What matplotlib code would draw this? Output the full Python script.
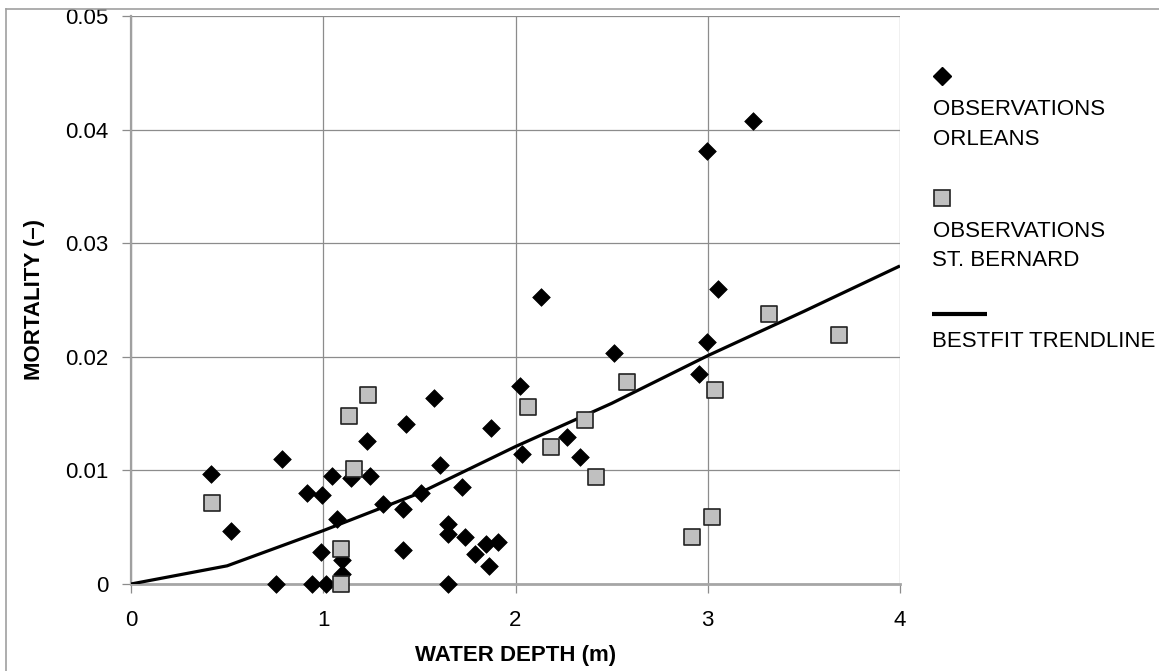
import matplotlib
matplotlib.use("Agg")
import matplotlib.pyplot as plt
from matplotlib.lines import Line2D

plt.rcParams['font.family'] = ['Liberation Sans', 'DejaVu Sans']

# ---- data ----
orleans_depth = [0.415, 0.52, 0.785, 0.755, 0.944, 1.013, 1.10, 1.10, 0.99, 1.074,
                 0.914, 0.992, 1.044, 1.143, 1.243, 1.23, 1.31, 1.416, 1.506, 1.607,
                 1.43, 1.576, 1.72, 1.874, 1.416, 1.65, 1.65, 1.735, 1.844, 1.908,
                 1.79, 1.86, 1.648, 2.026, 2.035, 2.27, 2.338, 2.51, 2.133, 3.053,
                 2.995, 2.955, 3.233, 2.995]
orleans_mort = [0.0097, 0.00465, 0.0110, 0.0, 0.0, 0.0, 0.0021, 0.0009, 0.00285, 0.0057,
                0.0080, 0.00785, 0.0095, 0.00935, 0.0095, 0.0126, 0.0070, 0.0066, 0.0080, 0.0105,
                0.0141, 0.0164, 0.0085, 0.0137, 0.0030, 0.0053, 0.0044, 0.0041, 0.0035, 0.0037,
                0.00265, 0.00156, 0.0, 0.0174, 0.0114, 0.0129, 0.0112, 0.0203, 0.0253, 0.0260,
                0.0213, 0.0185, 0.0408, 0.0381]

bernard_depth = [0.42, 1.09, 1.09, 1.16, 1.134, 1.233, 2.066, 2.185, 2.36, 2.42,
                 2.58, 3.32, 3.04, 3.685, 3.02, 2.92]
bernard_mort = [0.0071, 0.0, 0.0031, 0.0101, 0.0148, 0.0166, 0.0156, 0.0121, 0.0144, 0.0094,
                0.0178, 0.0238, 0.0171, 0.0219, 0.0059, 0.0041]

trend_depth = [0, 0.5, 1.0, 1.5, 2.0, 2.5, 3.0, 3.5, 4.0]
trend_mort = [0, 0.0016, 0.0047, 0.0080, 0.0121, 0.0159, 0.0201, 0.0240, 0.0280]

x_ticks = [0, 1, 2, 3, 4]
y_ticks = [0, 0.01, 0.02, 0.03, 0.04, 0.05]
y_ticklabels = ['0', '0.01', '0.02', '0.03', '0.04', '0.05']

legend_labels = [["OBSERVATIONS", "ORLEANS"], ["OBSERVATIONS", "ST. BERNARD"], ["BESTFIT TRENDLINE"]]
x_label = "WATER DEPTH (m)"
y_label = "MORTALITY (\u2013)"

# ---- figure ----
W, H = 1159, 671
fig = plt.figure(figsize=(W / 100, H / 100), dpi=100)

def fx(px):
    return px / W

def fy(py):
    return 1 - py / H

ax = fig.add_axes([fx(131), fy(584), fx(900) - fx(131), fy(16) - fy(584)])

grid_c = '#8c8c8c'
ax.set_xlim(0, 4)
ax.set_ylim(0, 0.05)
ax.set_xticks(x_ticks)
ax.set_xticklabels([str(v) for v in x_ticks])
ax.set_yticks(y_ticks)
ax.set_yticklabels(y_ticklabels)
ax.grid(True, color=grid_c, linewidth=0.9)
ax.set_axisbelow(True)
for s in ['top', 'right']:
    ax.spines[s].set_visible(False)
ax.spines['left'].set_color('#a0a0a0')
ax.spines['left'].set_linewidth(1.6)
ax.spines['bottom'].set_color('#a6a6a6')
ax.spines['bottom'].set_linewidth(2.0)
ax.tick_params(axis='y', length=6.5, width=0.9, color=grid_c, pad=10, labelsize=16)
ax.tick_params(axis='x', length=6.5, width=0.9, color=grid_c, pad=12, labelsize=16)

ax.scatter(orleans_depth, orleans_mort, marker='D', s=9.0 ** 2, color='black',
           edgecolors='black', linewidths=0.5, zorder=3, clip_on=False)
ax.plot(trend_depth, trend_mort, color='black', linewidth=2.3, zorder=4,
        solid_capstyle='butt')
ax.scatter(bernard_depth, bernard_mort, marker='s', s=11.0 ** 2, color='#c0c0c0',
           edgecolors='#222222', linewidths=1.2, zorder=5, clip_on=False)

ax.set_xlabel(x_label, fontsize=16, fontweight='bold', labelpad=10)
ax.set_ylabel(y_label, fontsize=16, fontweight='bold', labelpad=14)

# ---- legend (manual, marker above text) ----
fig.add_artist(Line2D([fx(941.7)], [fy(76)], marker='D', markersize=9.5,
                      color='black', linestyle='none', transform=fig.transFigure))
fig.add_artist(Line2D([fx(941.7)], [fy(198.3)], marker='s', markersize=11.5,
                      markerfacecolor='#c0c0c0', markeredgecolor='#222222',
                      markeredgewidth=1.2, linestyle='none', transform=fig.transFigure))
fig.add_artist(Line2D([fx(932), fx(987)], [fy(314), fy(314)], color='black',
                      linewidth=3, transform=fig.transFigure, solid_capstyle='butt'))
baselines = [[115, 145], [236.5, 266.5], [347]]
for lines, bls in zip(legend_labels, baselines):
    for txt, bl in zip(lines, bls):
        fig.text(fx(932.5), fy(bl), txt, fontsize=16, va='baseline', ha='left')

# ---- figure frame (left and top edges) ----
fig.add_artist(Line2D([fx(6), fx(6)], [fy(8.5), 0], color='#a0a0a0', linewidth=1.2,
                      transform=fig.transFigure))
fig.add_artist(Line2D([fx(6), 1], [fy(8.5), fy(8.5)], color='#a0a0a0', linewidth=1.2,
                      transform=fig.transFigure))

fig.savefig('out.png', dpi=100)
